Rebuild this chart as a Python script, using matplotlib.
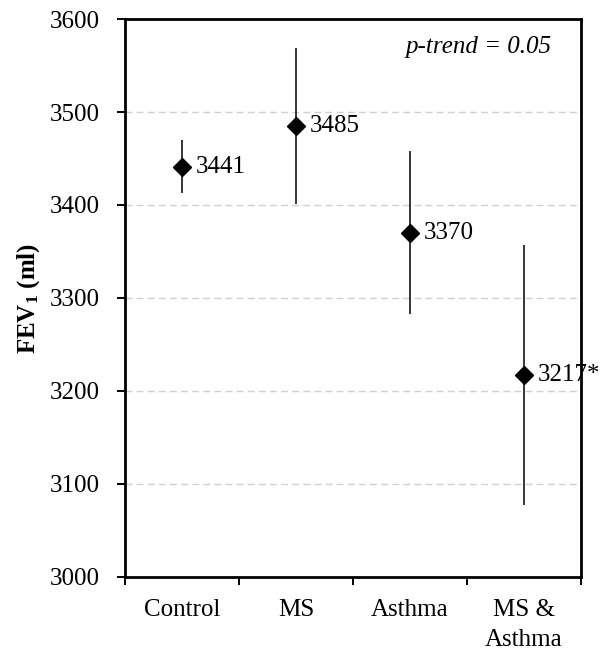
import matplotlib
matplotlib.use("Agg")
import matplotlib.pyplot as plt
import numpy as np

categories = ["Control", "MS", "Asthma", "MS &\nAsthma"]
means = [3441, 3485, 3370, 3217]
lower = [3413, 3401, 3283, 3077]
upper = [3470, 3569, 3458, 3357]
point_labels = ["3441", "3485", "3370", "3217*"]
yticks = [3000, 3100, 3200, 3300, 3400, 3500, 3600]

plt.rcParams['font.family'] = ['Liberation Serif', 'DejaVu Serif']
plt.rcParams['mathtext.fontset'] = 'custom'
plt.rcParams['mathtext.rm'] = 'Liberation Serif'
plt.rcParams['mathtext.bf'] = 'Liberation Serif:bold'
plt.rcParams['mathtext.it'] = 'Liberation Serif:italic'

FS = 18

fig = plt.figure(figsize=(6.03, 6.51), dpi=100)
ax = fig.add_axes([0.2073, 0.1137, 0.7562, 0.8571])

x = np.arange(len(categories))
means_a = np.array(means)
yerr = np.vstack([means_a - np.array(lower), np.array(upper) - means_a])
ax.errorbar(x, means_a, yerr=yerr, fmt='D', color='black', ecolor='black',
            elinewidth=1.1, markersize=9, capsize=0, zorder=3)
for xi, yi, lab in zip(x, means, point_labels):
    ax.annotate(lab, (xi, yi), xytext=(10, 0), textcoords='offset points',
                va='center', ha='left', fontsize=FS)

ax.set_xlim(-0.5, len(categories) - 0.5)
ax.set_ylim(3000, 3600)
ax.set_yticks(yticks)
ax.tick_params(axis='y', labelsize=FS, direction='out', length=6, width=1.4, pad=12)
ax.set_xticks(np.arange(-0.5, len(categories), 1.0))
ax.set_xticklabels([])
ax.tick_params(axis='x', which='major', direction='out', length=6, width=1.4)
ax.set_xticks(x, minor=True)
ax.set_xticklabels(categories, minor=True, fontsize=FS, linespacing=1.45)
ax.tick_params(axis='x', which='minor', length=0, pad=16)

for v in yticks[1:-1]:
    ax.axhline(v, color='#d0d0d0', linestyle=(0, (5, 3)), linewidth=1, zorder=0)

for s in ax.spines.values():
    s.set_linewidth(2)

ax.set_ylabel(r'FEV$_\mathbf{1}$ (ml)', fontsize=FS, fontweight='bold', labelpad=6)
ax.text(0.936, 0.95, 'p-trend = 0.05', transform=ax.transAxes, ha='right', va='center',
        fontsize=FS, style='italic')

fig.savefig('out.png', dpi=100)
